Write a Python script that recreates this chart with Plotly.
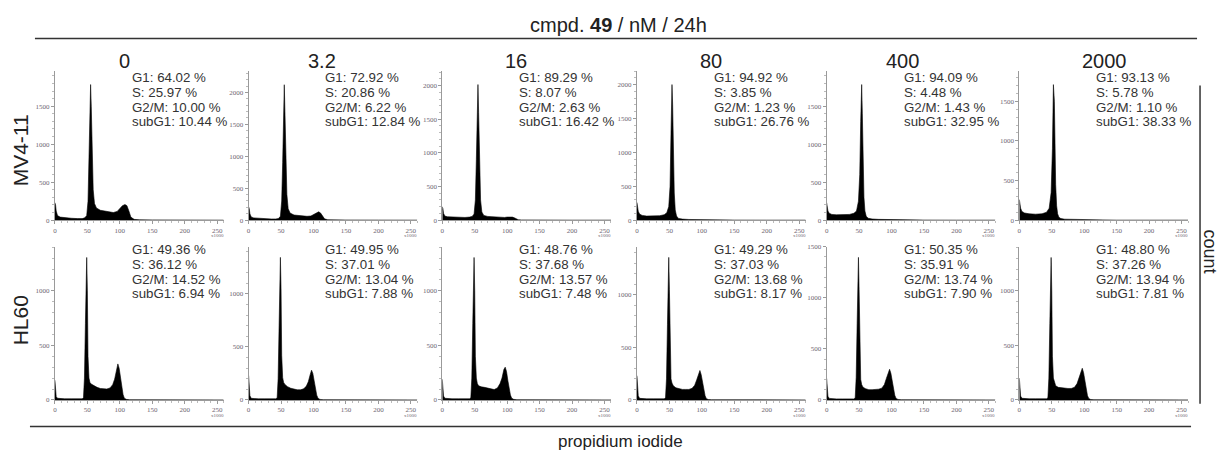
import plotly.graph_objects as go

# ---------------- data ----------------
doses = ["0", "3.2", "16", "80", "400", "2000"]
cell_lines = ["MV4-11", "HL60"]

# propidium iodide channel (x1000) sample positions
pi_mv411 = [0, 1, 2, 4, 8, 15, 25, 35, 42, 46, 49, 51, 52.5, 54, 55, 56, 57.5, 59, 61, 64,
            70, 80, 90, 96, 100, 104, 108, 111, 114, 117, 122, 130, 150, 200, 260]
pi_hl60 = [0, 1, 2, 4, 8, 15, 25, 35, 42, 44, 45.5, 47, 48, 49, 50, 51, 52.5, 54, 56, 60,
           65, 70, 75, 80, 85, 89, 92, 95, 97, 99, 101, 103, 105, 107, 110, 115, 130, 160, 200, 260]

# counts, MV4-11
mv_0 = [230, 200, 120, 60, 40, 30, 25, 20, 20, 30, 60, 250, 700, 1400, 1785, 1500, 800, 400, 220, 160,
        130, 110, 100, 115, 160, 190, 205, 190, 120, 40, 10, 5, 3, 1, 0]
mv_3_2 = [210, 180, 100, 50, 35, 28, 22, 18, 18, 25, 60, 300, 900, 1700, 2120, 1700, 900, 400, 180, 110,
          80, 65, 60, 65, 85, 110, 130, 110, 60, 20, 6, 3, 2, 1, 0]
mv_16 = [200, 170, 100, 60, 50, 45, 40, 40, 45, 55, 90, 300, 900, 1650, 2015, 1600, 800, 300, 120, 70,
         55, 45, 40, 40, 45, 50, 45, 35, 15, 6, 3, 2, 1, 0, 0]
mv_80 = [260, 200, 130, 90, 70, 60, 60, 65, 80, 110, 200, 500, 1300, 2000, 1700, 1000, 400, 150, 60, 25,
         15, 10, 8, 10, 12, 12, 10, 8, 5, 3, 2, 1, 1, 0, 0]
mv_400 = [230, 180, 120, 90, 75, 70, 70, 75, 90, 120, 250, 600, 1300, 1785, 1400, 800, 300, 120, 50, 25,
          15, 10, 8, 8, 8, 8, 6, 5, 4, 3, 2, 1, 1, 0, 0]
mv_2000 = [260, 200, 150, 110, 90, 80, 75, 80, 100, 150, 350, 900, 1710, 1500, 900, 450, 180, 80, 35, 20,
           12, 10, 8, 8, 8, 6, 5, 4, 3, 2, 1, 1, 0, 0, 0]

# counts, HL60
hl_0 = [180, 120, 30, 15, 12, 10, 10, 10, 10, 20, 200, 700, 1100, 1306, 1000, 400, 200, 160, 145, 130,
        115, 105, 100, 100, 110, 140, 190, 270, 330, 290, 200, 110, 50, 15, 5, 2, 2, 1, 0, 0]
hl_3_2 = [230, 150, 40, 15, 12, 10, 10, 10, 10, 20, 200, 700, 1100, 1343, 1050, 420, 210, 165, 145, 125,
          110, 100, 95, 95, 105, 130, 170, 240, 280, 250, 180, 100, 45, 15, 5, 2, 2, 1, 0, 0]
hl_16 = [190, 130, 35, 15, 12, 10, 10, 10, 10, 20, 200, 700, 1100, 1306, 1000, 400, 200, 150, 130, 120,
         115, 110, 105, 95, 110, 150, 200, 280, 300, 260, 180, 100, 45, 15, 5, 2, 2, 1, 0, 0]
hl_80 = [230, 150, 40, 15, 12, 10, 10, 10, 10, 20, 200, 720, 1150, 1356, 1050, 420, 200, 160, 135, 115,
         105, 100, 100, 100, 110, 140, 190, 260, 280, 240, 170, 95, 40, 12, 4, 2, 2, 1, 0, 0]
hl_400 = [210, 140, 35, 15, 12, 10, 10, 10, 10, 20, 220, 750, 1200, 1395, 1080, 430, 200, 150, 125, 110,
          100, 100, 100, 105, 115, 150, 210, 280, 300, 260, 180, 100, 45, 15, 5, 2, 2, 1, 0, 0]
hl_2000 = [200, 130, 35, 15, 12, 10, 10, 10, 10, 20, 200, 700, 1100, 1306, 1000, 400, 200, 155, 130, 115,
           110, 105, 105, 105, 115, 150, 200, 270, 290, 250, 170, 95, 40, 12, 4, 2, 2, 1, 0, 0]

# count-axis maxima of each panel
ymax_mv411 = [1966, 2338, 2219, 2203, 1966, 1884]
ymax_hl60 = [1405, 1444, 1405, 1458, 1500, 1405]

# cell-cycle percentages
g1_mv411 = ["64.02", "72.92", "89.29", "94.92", "94.09", "93.13"]
s_mv411 = ["25.97", "20.86", "8.07", "3.85", "4.48", "5.78"]
g2m_mv411 = ["10.00", "6.22", "2.63", "1.23", "1.43", "1.10"]
subg1_mv411 = ["10.44", "12.84", "16.42", "26.76", "32.95", "38.33"]

g1_hl60 = ["49.36", "49.95", "48.76", "49.29", "50.35", "48.80"]
s_hl60 = ["36.12", "37.01", "37.68", "37.03", "35.91", "37.26"]
g2m_hl60 = ["14.52", "13.04", "13.57", "13.68", "13.74", "13.94"]
subg1_hl60 = ["6.94", "7.88", "7.48", "8.17", "7.90", "7.81"]

x_ticks = [0, 50, 100, 150, 200, 250]

# ---------------- layout helpers ----------------
W, H = 1219, 455
SANS = "Liberation Sans, Arial, sans-serif"
SERIF = "Liberation Serif, Times New Roman, serif"
TICKCOL = "#6e6470"
AXCOL = "#9a9a9a"

col_x0 = [53, 247, 441, 636, 826, 1019]
panel_w = 169
row_top = [68, 247]
row_zero = [220, 403]
title_cx = [123, 321, 515, 710, 902, 1104]


def px(x):
    return x / W


def py(y):
    return 1 - y / H


rows = [
    dict(x=pi_mv411, counts=[mv_0, mv_3_2, mv_16, mv_80, mv_400, mv_2000], ymax=ymax_mv411,
         g1=g1_mv411, s=s_mv411, g2m=g2m_mv411, subg1=subg1_mv411),
    dict(x=pi_hl60, counts=[hl_0, hl_3_2, hl_16, hl_80, hl_400, hl_2000], ymax=ymax_hl60,
         g1=g1_hl60, s=s_hl60, g2m=g2m_hl60, subg1=subg1_hl60),
]

fig = go.Figure()
layout = {}
annotations = []

for r, row in enumerate(rows):
    for c in range(6):
        k = r * 6 + c + 1
        xa = "x" if k == 1 else f"x{k}"
        ya = "y" if k == 1 else f"y{k}"
        fig.add_trace(go.Scatter(
            x=row["x"], y=row["counts"][c], mode="lines", fill="tozeroy",
            fillcolor="black", line=dict(color="black", width=0.6),
            xaxis=xa, yaxis=ya, hoverinfo="skip", showlegend=False))
        ymax = row["ymax"][c]
        layout["xaxis" if k == 1 else f"xaxis{k}"] = dict(
            domain=[px(col_x0[c]), px(col_x0[c] + panel_w)], range=[0, 260], anchor=ya,
            tickvals=x_ticks, ticks="outside", ticklen=3, tickwidth=1, tickcolor=AXCOL,
            showline=True, linecolor=AXCOL, linewidth=1, showgrid=False, zeroline=False,
            tickfont=dict(family=SERIF, size=7, color=TICKCOL),
            minor=dict(ticks="outside", ticklen=2, dtick=10, tickcolor="#bbbbbb", showgrid=False),
            fixedrange=True)
        layout["yaxis" if k == 1 else f"yaxis{k}"] = dict(
            domain=[py(row_zero[r]), py(row_top[r])], range=[0, ymax], anchor=xa,
            tickvals=list(range(0, int(ymax) + 1, 500)), ticks="outside", ticklen=3, tickwidth=1,
            tickcolor=AXCOL, showline=True, linecolor=AXCOL, linewidth=1, showgrid=False,
            zeroline=False, tickfont=dict(family=SERIF, size=7, color=TICKCOL),
            minor=dict(ticks="outside", ticklen=2, dtick=100, tickcolor="#bbbbbb", showgrid=False),
            fixedrange=True)
        # x1000 label under the 250 tick
        annotations.append(dict(
            x=250, xref=xa, y=py(row_zero[r] + 16), yref="paper", text="x1000",
            showarrow=False, xanchor="center", yanchor="middle",
            font=dict(family=SERIF, size=5, color=TICKCOL)))
        # percentages
        lines = [f"G1: {row['g1'][c]} %", f"S: {row['s'][c]} %",
                 f"G2/M: {row['g2m'][c]} %", f"subG1: {row['subg1'][c]} %"]
        base_y = 75 if r == 0 else 250
        for i, t in enumerate(lines):
            annotations.append(dict(
                x=px(col_x0[c] + 75), y=py(base_y + 15 * i), xref="paper", yref="paper",
                text=t, showarrow=False, xanchor="left", yanchor="middle",
                font=dict(family=SANS, size=13.3, color="#333333")))

# column titles
for c, d in enumerate(doses):
    annotations.append(dict(x=px(title_cx[c]), y=py(58), xref="paper", yref="paper", text=d,
                            showarrow=False, xanchor="center", yanchor="middle",
                            font=dict(family=SANS, size=20, color="#222222")))

# header / labels
annotations += [
    dict(x=px(618), y=py(21), xref="paper", yref="paper", text="cmpd. <b>49</b> / nM / 24h",
         showarrow=False, xanchor="center", yanchor="middle",
         font=dict(family=SANS, size=20, color="#222222")),
    dict(x=px(620), y=py(445), xref="paper", yref="paper", text="propidium iodide",
         showarrow=False, xanchor="center", yanchor="middle",
         font=dict(family=SANS, size=17, color="#222222")),
    dict(x=px(18), y=py(149), xref="paper", yref="paper", text=cell_lines[0], textangle=-90,
         showarrow=False, xanchor="center", yanchor="middle",
         font=dict(family=SANS, size=21, color="#222222")),
    dict(x=px(18), y=py(322), xref="paper", yref="paper", text=cell_lines[1], textangle=-90,
         showarrow=False, xanchor="center", yanchor="middle",
         font=dict(family=SANS, size=21, color="#222222")),
    dict(x=px(1210), y=py(252), xref="paper", yref="paper", text="count", textangle=90,
         showarrow=False, xanchor="center", yanchor="middle",
         font=dict(family=SANS, size=18, color="#222222")),
]

shapes = [
    dict(type="line", xref="paper", yref="paper", x0=px(33), x1=px(1197), y0=py(35), y1=py(35),
         line=dict(color="#333333", width=1.5)),
    dict(type="line", xref="paper", yref="paper", x0=px(28), x1=px(1191), y0=py(430), y1=py(430),
         line=dict(color="#333333", width=1.5)),
    dict(type="line", xref="paper", yref="paper", x0=px(1200), x1=px(1200), y0=py(83), y1=py(407),
         line=dict(color="#333333", width=1.5)),
]

fig.update_layout(
    width=W, height=H, margin=dict(l=0, r=0, t=0, b=0),
    paper_bgcolor="white", plot_bgcolor="white", showlegend=False,
    annotations=annotations, shapes=shapes, **layout)

fig.write_html("out.html", config={"displayModeBar": False})
